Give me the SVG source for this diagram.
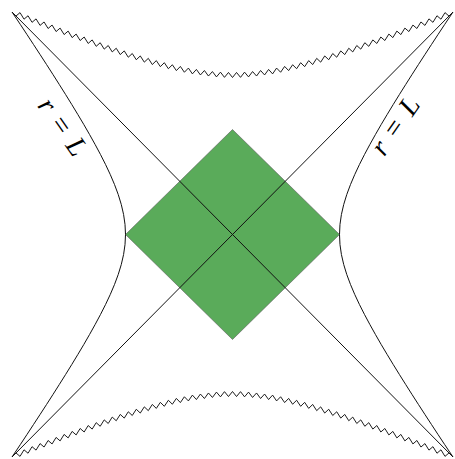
<svg xmlns="http://www.w3.org/2000/svg" width="455" height="459" viewBox="0 0 455 459">
<style>
.ln{fill:none;stroke:#111111;stroke-width:1;stroke-linejoin:round}
.zz{fill:none;stroke:#111111;stroke-width:0.95;stroke-linejoin:miter}
.lbl{font-family:"Liberation Serif","DejaVu Serif",serif;font-size:28px;fill:#000}
.it{font-style:italic}
</style>
<defs>
<path id="zzh" d="M-220.5,-222.5 L-216.49,-218.45 L-212.48,-221.88 L-208.47,-215.31 L-204.46,-218.74 L-200.46,-212.17 L-196.45,-215.62 L-192.44,-209.08 L-188.43,-212.54 L-184.42,-205.99 L-180.41,-209.45 L-176.4,-202.93 L-172.39,-206.42 L-168.38,-199.92 L-164.37,-203.41 L-160.37,-196.9 L-156.36,-200.43 L-152.35,-193.97 L-148.34,-197.5 L-144.33,-191.04 L-140.32,-194.58 L-136.31,-188.17 L-132.3,-191.77 L-128.29,-185.37 L-124.28,-188.97 L-120.28,-182.57 L-116.27,-186.24 L-112.26,-179.92 L-108.25,-183.6 L-104.24,-177.28 L-100.23,-180.97 L-96.22,-174.76 L-92.21,-178.55 L-88.2,-172.35 L-84.19,-176.15 L-80.19,-169.95 L-76.18,-173.9 L-72.17,-167.85 L-68.16,-171.81 L-64.15,-165.77 L-60.14,-169.73 L-56.13,-163.9 L-52.12,-168.07 L-48.11,-162.25 L-44.1,-166.43 L-40.1,-160.6 L-36.09,-165.07 L-32.08,-159.54 L-28.07,-164 L-24.06,-158.47 L-20.05,-162.94 L-16.04,-157.6 L-12.04,-162.34 L-8.03,-157.15 L-4.02,-162.04 L0,-157"/>
<path id="crv" d="M-220.5,-222.5 L-212.14,-210 L-205.53,-200 L-198.97,-190 L-192.44,-180 L-185.96,-170 L-179.54,-160 L-173.19,-150 L-166.91,-140 L-160.73,-130 L-154.66,-120 L-148.7,-110 L-142.94,-100 L-137.36,-90 L-132.01,-80 L-126.95,-70 L-122.25,-60 L-118,-50 L-114.28,-40 L-111.21,-30 L-108.92,-20 L-107.48,-10 L-107,0 L-107.48,10 L-108.92,20 L-111.21,30 L-114.28,40 L-118,50 L-122.25,60 L-126.95,70 L-132.01,80 L-137.36,90 L-142.94,100 L-148.7,110 L-154.66,120 L-160.73,130 L-166.91,140 L-173.19,150 L-179.54,160 L-185.96,170 L-192.44,180 L-198.97,190 L-205.53,200 L-212.14,210 L-220.5,222.5"/>
</defs>
<rect width="455" height="459" fill="#ffffff"/>
<g id="region">
<polygon points="232.5,129.5 339.5,234.5 232.5,339.5 125.5,234.5" fill="#5aab5a" stroke="#5a5a5a" stroke-width="0.6"/>
</g>
<g id="connectors" transform="translate(232.5,234.5)">
<line class="ln" x1="-220.5" y1="-222.5" x2="220.5" y2="222.5"/>
<line class="ln" x1="220.5" y1="-222.5" x2="-220.5" y2="222.5"/>
<use href="#crv" class="ln"/>
<use href="#crv" class="ln" transform="scale(-1,1)"/>
<use href="#zzh" class="zz"/>
<use href="#zzh" class="zz" transform="scale(-1,1)"/>
<use href="#zzh" class="zz" transform="scale(1,-1)"/>
<use href="#zzh" class="zz" transform="scale(-1,-1)"/>
</g>
<g id="labels">
<text class="lbl" transform="translate(61,128) rotate(55)" text-anchor="middle" y="7" word-spacing="4"><tspan class="it">r</tspan> = <tspan class="it">L</tspan></text>
<text class="lbl" transform="translate(397,127) rotate(-55)" text-anchor="middle" y="7" word-spacing="4"><tspan class="it">r</tspan> = <tspan class="it">L</tspan></text>
</g>
</svg>
